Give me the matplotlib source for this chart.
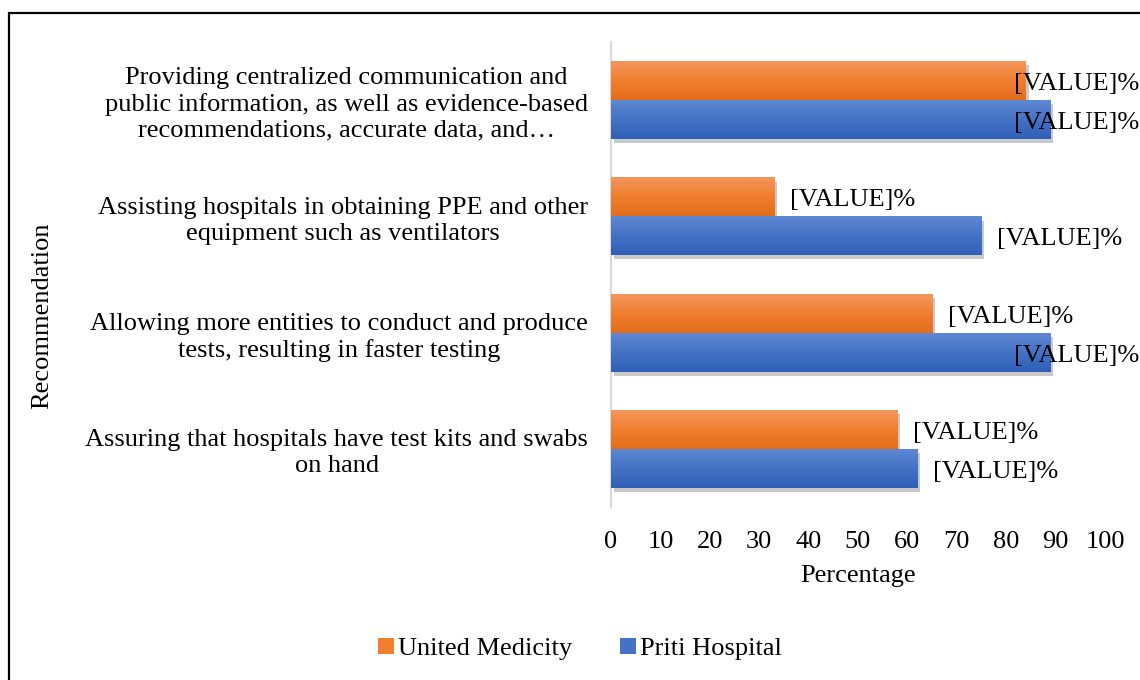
import numpy as np
import matplotlib
matplotlib.use('Agg')
import matplotlib.pyplot as plt
import matplotlib.patheffects as pe
from matplotlib.patches import Rectangle, Patch
from matplotlib.colors import LinearSegmentedColormap

plt.rcParams['font.family'] = ['Liberation Serif', 'DejaVu Serif']

categories = [
    'Assuring that hospitals have test kits and swabs\non hand',
    'Allowing more entities to conduct and produce\ntests, resulting in faster testing',
    'Assisting hospitals in obtaining PPE and other\nequipment such as ventilators',
    'Providing centralized communication and\npublic information, as well as evidence-based\nrecommendations, accurate data, and\u2026',
]
united_medicity = [58, 65, 33, 84]
priti_hospital = [62, 89, 75, 89]
series_names = ['United Medicity', 'Priti Hospital']
xticks = list(range(0, 101, 10))

orange = '#F07F2F'
blue = '#4472C4'
orange_grad = ['#F4965C', '#F07F2F', '#E36C1A']
blue_grad = ['#5E88D2', '#4472C4', '#2F5FB8']

W, H = 1140, 680
fig = plt.figure(figsize=(W / 100, H / 100), dpi=100)
ax = fig.add_axes([611 / W, 1 - 507 / H, (1105 - 611) / W, (507 - 42) / H])

y = np.arange(len(categories))
h = 0.335
fs = 19

bars_u = ax.barh(y + h / 2, united_medicity, height=h, color=orange, zorder=2)
bars_p = ax.barh(y - h / 2, priti_hospital, height=h, color=blue, zorder=2)

shadow = [pe.SimplePatchShadow(offset=(2, -3), shadow_rgbFace='#666666', alpha=0.35), pe.Normal()]
grad = np.linspace(0, 1, 64).reshape(-1, 1)
for bars, cols in [(bars_u, orange_grad), (bars_p, blue_grad)]:
    cmap = LinearSegmentedColormap.from_list('g', cols)
    for b in bars:
        b.set_path_effects(shadow)
        x0, y0 = b.get_x(), b.get_y()
        w, hh = b.get_width(), b.get_height()
        im = ax.imshow(grad, cmap=cmap, aspect='auto', origin='upper',
                       extent=[x0, x0 + w, y0, y0 + hh], zorder=3)
        im.set_clip_path(b)

# data labels, pushed left when they would run off the chart
label_limit = 81.6
for vals, off in [(united_medicity, h / 2), (priti_hospital, -h / 2)]:
    for i, v in enumerate(vals):
        xl = min(v + 3.2, label_limit)
        ax.text(xl, i + off - 0.03, '[VALUE]%', fontsize=fs, va='center', ha='left',
                zorder=5, clip_on=False)

ax.set_xlim(0, 100)
ax.set_ylim(-0.5, 3.5)
ax.set_xticks(xticks)
ax.set_xticklabels([str(t) for t in xticks], fontsize=fs)
ax.set_yticks(y)
ax.set_yticklabels(categories, fontsize=fs, multialignment='center', linespacing=1.22)
ax.tick_params(axis='both', length=0)
ax.tick_params(axis='y', pad=16.5)
ax.tick_params(axis='x', pad=17)
for s in ['top', 'right', 'bottom']:
    ax.spines[s].set_visible(False)
ax.spines['left'].set_color('#D9D9D9')
ax.spines['left'].set_linewidth(1.5)

ax.set_xlabel('Percentage', fontsize=fs, labelpad=9)
fig.text(42 / W, 1 - 316 / H, 'Recommendation', rotation=90, fontsize=fs,
         ha='center', va='center')

handles = [Patch(facecolor=orange), Patch(facecolor=blue)]
fig.legend(handles=handles, labels=series_names, loc='center',
           bbox_to_anchor=(580 / W, 1 - 649 / H), ncol=2, frameon=False,
           fontsize=fs, handlelength=0.6, handleheight=0.6, handletextpad=0.15,
           columnspacing=1.8)

fig.patches.append(Rectangle((9 / W, -0.01), 1.0, 1 - 13 / H + 0.01, transform=fig.transFigure,
                             fill=False, edgecolor='black', linewidth=1.6))

fig.savefig('out.png', dpi=100)
